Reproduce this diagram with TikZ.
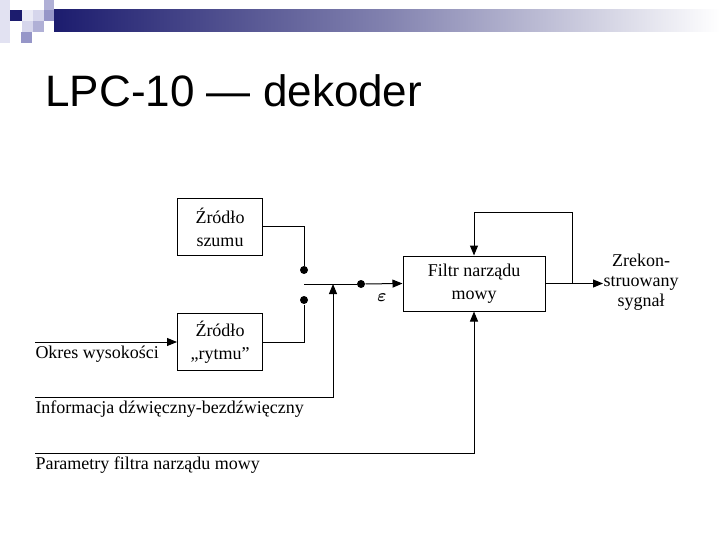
\documentclass[tikz,border=0pt]{standalone}
\usepackage{amsmath}
\usepackage{fontspec}
\setmainfont{Liberation Serif}
\newfontfamily\titlefont{Liberation Sans}
\usetikzlibrary{arrows.meta, positioning}
\definecolor{cnavy}{RGB}{28,28,110}
\definecolor{clav}{RGB}{150,150,200}
\definecolor{cmid}{RGB}{176,176,214}
\definecolor{cpale}{RGB}{214,214,236}
\tikzset{
  every picture/.style={line width=1pt},
  box/.style={draw, rectangle, align=center, minimum width=85pt, minimum height=57pt, inner sep=2pt, font=\fontsize{18}{23}\selectfont},
  arrow/.style={-{Triangle[length=10pt, width=8pt]}},
  dot/.style={circle, fill, inner sep=0pt, minimum size=8pt},
  txt/.style={font=\fontsize{18}{20}\selectfont, inner sep=0pt},
}

\begin{document}
\begin{tikzpicture}[x=1pt, y=-1pt]
  \useasboundingbox (0,0) rectangle (720,540);
  % header
  \fill[cpale!70] (0,0) rectangle (10,43);
  \fill[cnavy] (10,10) rectangle (22,21);
  \fill[cpale!50] (22,10) rectangle (33,21);
  \fill[cpale] (33,10) rectangle (44,21);
  \fill[cmid] (44,0) rectangle (54,10);
  \fill[clav] (44,10) rectangle (54,21);
  \fill[cpale] (22,21) rectangle (33,32);
  \fill[cmid] (33,21) rectangle (44,32);
  \fill[clav] (21,32) rectangle (32,43);
  \shade[left color=cnavy, right color=white, middle color=cnavy!55] (54,10) rectangle (720,32);
  \node[font=\titlefont\fontsize{44}{50}\selectfont, anchor=base west, inner sep=0pt] (title) at (45,107) {LPC-10 — dekoder};
  % blocks
  \node[box] (szum) at (220,227) {Źródło\\szumu};
  \node[box] (rytm) at (220,342) {Źródło\\„rytmu”};
  \node[box, minimum width=142pt, minimum height=55pt] (filtr) at (474,283.5) {Filtr narządu\\mowy};
  % switch
  \node[dot] (d1) at (304,270) {};
  \node[dot] (d2) at (304,300) {};
  \node[dot] (d3) at (361,284) {};
  \coordinate (sw) at (304,284);
  \coordinate (ud) at (333,284);
  \coordinate (fb) at (572,284);
  \coordinate (fbtop) at (572,213);
  \node[font=\fontsize{16}{18}\selectfont] (eps) at (382,298) {$\boldsymbol{\varepsilon}$};
  \draw (szum.east) -| (d1);
  \draw (rytm.east) -| (d2);
  \draw (sw) -- (d3);
  \draw[arrow] (d3) -- (filtr.west);
  % output
  \node[txt, align=center] (rek) at (641,282) {Zrekon-\\struowany\\sygnał};
  \draw[arrow] (filtr.east) -- (rek.west |- filtr.east);
  \draw[arrow] (fb) -- (fbtop) -| (filtr.north);
  % inputs
  \coordinate (okr) at (35,342);
  \coordinate (inf) at (35,397);
  \coordinate (par) at (35,453);
  \node[txt, anchor=west] (okres) at (35,354) {Okres wysokości};
  \node[txt, anchor=west] (info) at (35,409) {Informacja dźwięczny-bezdźwięczny};
  \node[txt, anchor=west] (param) at (35,465) {Parametry filtra narządu mowy};
  \draw[arrow] (okr) -- (rytm.west);
  \draw[arrow] (inf) -| (ud);
  \draw[arrow] (par) -| (filtr.south);
\end{tikzpicture}
\end{document}
